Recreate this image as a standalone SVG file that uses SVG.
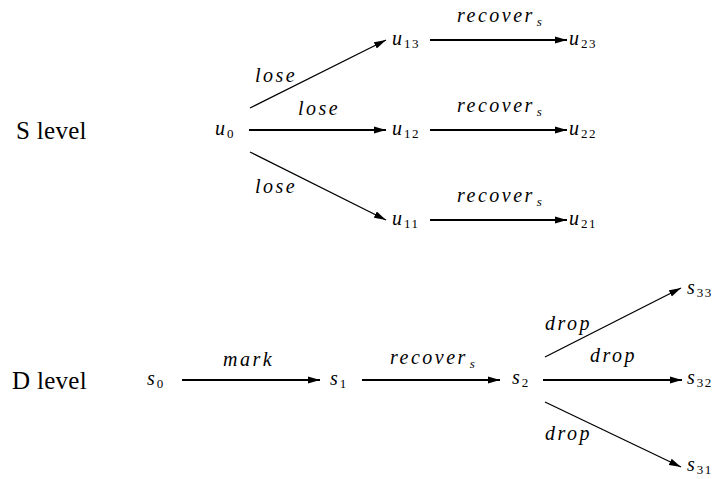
<svg xmlns="http://www.w3.org/2000/svg" width="716" height="479" viewBox="0 0 716 479">
<style>
.lvl{font-size:25px;letter-spacing:0.3px}
.v{font-style:italic;font-size:20px}
.sub{font-style:normal;font-size:13px;letter-spacing:1.5px}
.lab{font-style:italic;font-size:20px;letter-spacing:2.5px}
.labs{font-size:13px;letter-spacing:0}
.h{stroke:#000;stroke-width:2;fill:none}
.d{stroke:#000;stroke-width:1.3;fill:none}
</style>
<defs>
<marker id="ah" markerUnits="userSpaceOnUse" markerWidth="13" markerHeight="8" refX="12" refY="4" orient="auto">
<path d="M0,0.6 L12,4 L0,7.4 Z" fill="#000"/>
</marker>
</defs>
<g font-family="Liberation Serif, DejaVu Serif, serif" fill="#000">
<text class="lvl" x="16" y="139">S level</text>
<text class="lvl" x="12" y="389">D level</text>
<g id="connectors">
<line class="d" x1="250" y1="108" x2="386" y2="40" marker-end="url(#ah)"/>
<line class="h" x1="249" y1="130" x2="386" y2="130" marker-end="url(#ah)"/>
<line class="d" x1="250" y1="152" x2="386" y2="220" marker-end="url(#ah)"/>
<line class="h" x1="430" y1="40" x2="567" y2="40" marker-end="url(#ah)"/>
<line class="h" x1="430" y1="130" x2="567" y2="130" marker-end="url(#ah)"/>
<line class="h" x1="430" y1="220" x2="567" y2="220" marker-end="url(#ah)"/>
<line class="h" x1="182" y1="380" x2="320" y2="380" marker-end="url(#ah)"/>
<line class="h" x1="362" y1="380" x2="500" y2="380" marker-end="url(#ah)"/>
<line class="d" x1="545" y1="357" x2="681" y2="288" marker-end="url(#ah)"/>
<line class="h" x1="543" y1="380" x2="682" y2="380" marker-end="url(#ah)"/>
<line class="d" x1="545" y1="402" x2="681" y2="467" marker-end="url(#ah)"/>
<text class="lab" x="255" y="82">lose</text>
<text class="lab" x="298" y="115">lose</text>
<text class="lab" x="255" y="193">lose</text>
<text class="lab" x="457" y="22">recover<tspan class="labs" dx="2" dy="4">s</tspan></text>
<text class="lab" x="457" y="112">recover<tspan class="labs" dx="2" dy="4">s</tspan></text>
<text class="lab" x="457" y="202">recover<tspan class="labs" dx="2" dy="4">s</tspan></text>
<text class="lab" x="223" y="366">mark</text>
<text class="lab" x="390" y="364">recover<tspan class="labs" dx="2" dy="4">s</tspan></text>
<text class="lab" x="545" y="330">drop</text>
<text class="lab" x="590" y="362">drop</text>
<text class="lab" x="545" y="440">drop</text>
</g>
<g id="u0"><text class="v" x="215" y="135">u<tspan class="sub" dx="2" dy="3">0</tspan></text></g>
<g id="u13"><text class="v" x="392" y="45">u<tspan class="sub" dx="2" dy="3">13</tspan></text></g>
<g id="u12"><text class="v" x="392" y="135">u<tspan class="sub" dx="2" dy="3">12</tspan></text></g>
<g id="u11"><text class="v" x="392" y="225">u<tspan class="sub" dx="2" dy="3">11</tspan></text></g>
<g id="u23"><text class="v" x="569" y="45">u<tspan class="sub" dx="2" dy="3">23</tspan></text></g>
<g id="u22"><text class="v" x="569" y="135">u<tspan class="sub" dx="2" dy="3">22</tspan></text></g>
<g id="u21"><text class="v" x="569" y="225">u<tspan class="sub" dx="2" dy="3">21</tspan></text></g>
<g id="s0"><text class="v" x="147" y="385">s<tspan class="sub" dx="2" dy="3">0</tspan></text></g>
<g id="s1"><text class="v" x="330" y="385">s<tspan class="sub" dx="2" dy="3">1</tspan></text></g>
<g id="s2"><text class="v" x="512" y="384">s<tspan class="sub" dx="2" dy="3">2</tspan></text></g>
<g id="s33"><text class="v" x="687" y="294">s<tspan class="sub" dx="2" dy="3">33</tspan></text></g>
<g id="s32"><text class="v" x="687" y="384">s<tspan class="sub" dx="2" dy="3">32</tspan></text></g>
<g id="s31"><text class="v" x="687" y="471">s<tspan class="sub" dx="2" dy="3">31</tspan></text></g>
</g>
</svg>
